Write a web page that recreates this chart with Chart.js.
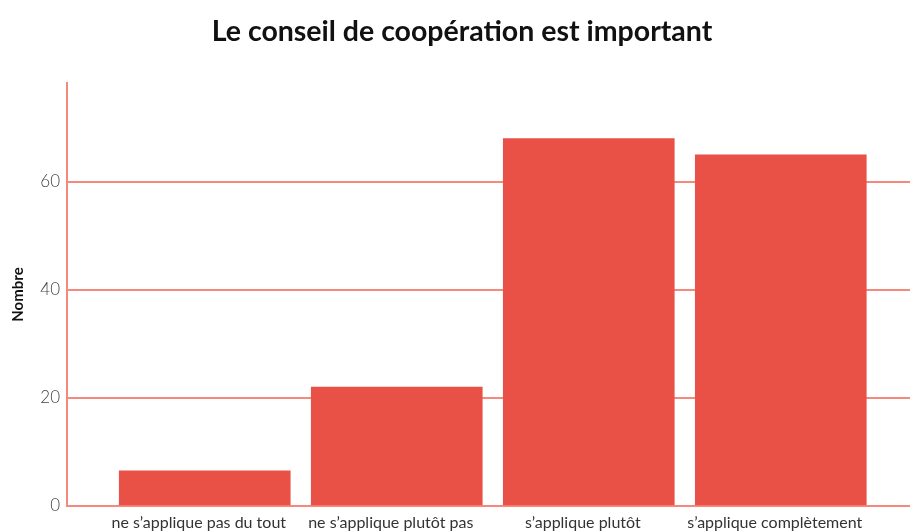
<!DOCTYPE html>
<html><head><meta charset="utf-8">
<script src="https://cdn.jsdelivr.net/npm/chart.js@4"></script>
<style>html,body{margin:0;padding:0;background:#fff}#wrap{width:910px;height:531px}</style>
</head><body><div id="wrap"><canvas id="c" width="910" height="531"></canvas></div>
<script>
const titleText = "Le conseil de coopération est important";
const yTitle = "Nombre";
const categories = ["ne s’applique pas du tout", "ne s’applique plutôt pas", "s’applique plutôt", "s’applique complètement"];
const values = [6.5, 22, 68, 65];
const yTicks = [0, 20, 40, 60];

const grid = "#F58A7C";
const titlePlugin = {
  id: 'customTitle',
  afterDraw(chart) {
    const ctx = chart.ctx;
    ctx.save();
    ctx.font = "bold 28.5px Lato";
    ctx.fillStyle = "#111";
    ctx.textAlign = "center";
    ctx.textBaseline = "alphabetic";
    ctx.fillText(titleText, 462, 41);
    ctx.restore();
  }
};
new Chart(document.getElementById('c'), {
  type: 'bar',
  data: {
    datasets: [{
      data: values.map((v, i) => ({x: i, y: v})),
      backgroundColor: "#E95146",
      barThickness: 171
    }]
  },
  plugins: [titlePlugin],
  options: {
    responsive: false,
    animation: false,
    layout: {padding: {left: 0, right: 0, top: 83, bottom: 0}},
    plugins: {
      legend: {display: false},
      tooltip: {enabled: false},
      title: {display: false}
    },
    scales: {
      x: {
        type: 'linear', min: -0.7174, max: 3.673, offset: false,
        grid: {display: false, drawTicks: false, offset: false},
        border: {display: false},
        afterBuildTicks: (a) => { a.ticks = categories.map((c, i) => ({value: i})); },
        afterFit: (a) => { a.height = 25; },
        ticks: {
          callback: (v) => categories[v] ?? "",
          color: "#333", font: {family: "Lato", size: 16},
          padding: 7, labelOffset: -6, maxRotation: 0, autoSkip: false
        }
      },
      y: {
        min: 0, max: 78.3,
        afterBuildTicks: (a) => { a.ticks = yTicks.map(v => ({value: v})); },
        afterFit: (a) => { a.width = 67; },
        grid: {color: grid, lineWidth: 2, drawTicks: false},
        border: {display: true, color: grid, width: 2},
        ticks: {color: "#444", font: {family: "Lato", size: 17, weight: 300}, padding: 7},
        title: {display: true, text: yTitle, color: "#111", font: {family: "Lato", size: 15, weight: "bold"}, padding: {top: 9, bottom: 0}}
      }
    }
  }
});
</script></body></html>
